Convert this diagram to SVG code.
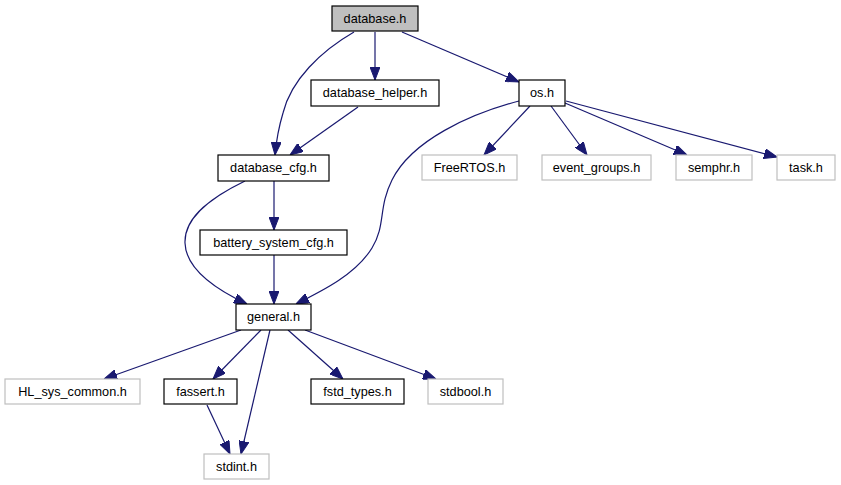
<svg xmlns="http://www.w3.org/2000/svg" width="841" height="485" viewBox="0 0 841 485">
<defs>
<marker id="arr" markerUnits="userSpaceOnUse" viewBox="0 0 13 10" refX="13" refY="5" markerWidth="13" markerHeight="10" orient="auto">
<path d="M0,0 L13,5 L0,10 Z" fill="#191970" stroke="#191970" stroke-width="1"/>
</marker>
<style>
.n rect{fill:#fff;stroke:#000;stroke-width:1.2}
.g rect{fill:#fff;stroke:#bfbfbf;stroke-width:1.2}
.root rect{fill:#bfbfbf}
text{font-family:"Liberation Sans",Arial,sans-serif;font-size:12.7px;fill:#000;text-anchor:middle}
.e path{fill:none;stroke:#191970;stroke-width:1.2;marker-end:url(#arr)}
</style>
</defs>
<rect width="841" height="485" fill="#fff"/>
<g id="edges" class="e">
<path d="M354,32 C321,51 291,80 283,113 C280,123 277,133 275,155"/>
<path d="M375,32 L375,80"/>
<path d="M402,32 L519,82"/>
<path d="M358,107 L290,155"/>
<path d="M274,181 L274,230"/>
<path d="M245,181 C214,196 184,216 185,243 C186,270 217,290 247,304"/>
<path d="M274,255 L274,304"/>
<path d="M519,101 C470,114 412,140 392,180 C378,208 386,225 372,248 C356,274 324,290 296,304"/>
<path d="M530,106 L484,155"/>
<path d="M551,106 L587,155"/>
<path d="M565,103 L687,155"/>
<path d="M566,101 L777,157"/>
<path d="M241,330 L104,379"/>
<path d="M261,330 L213,379"/>
<path d="M270,330 L241,454"/>
<path d="M288,330 L343,379"/>
<path d="M305,330 L436,379"/>
<path d="M207,405 L230,454"/>
</g>
<g id="database_h" class="n root"><rect x="332" y="6" width="86" height="25"/><text x="375" y="23">database.h</text></g>
<g id="database_helper_h" class="n"><rect x="311" y="80" width="128" height="26"/><text x="375" y="97">database_helper.h</text></g>
<g id="os_h" class="n"><rect x="519" y="80" width="46" height="26"/><text x="542" y="97">os.h</text></g>
<g id="database_cfg_h" class="n"><rect x="218" y="155" width="111" height="26"/><text x="273.5" y="172">database_cfg.h</text></g>
<g id="battery_system_cfg_h" class="n"><rect x="200" y="230" width="147" height="25"/><text x="273.5" y="247">battery_system_cfg.h</text></g>
<g id="general_h" class="n"><rect x="236" y="304" width="75" height="26"/><text x="273.5" y="321">general.h</text></g>
<g id="FreeRTOS_h" class="g"><rect x="422" y="155" width="95" height="25"/><text x="469.5" y="172">FreeRTOS.h</text></g>
<g id="event_groups_h" class="g"><rect x="542" y="155" width="109" height="25"/><text x="596.5" y="172">event_groups.h</text></g>
<g id="semphr_h" class="g"><rect x="676" y="155" width="76" height="25"/><text x="714" y="172">semphr.h</text></g>
<g id="task_h" class="g"><rect x="777" y="155" width="58" height="25"/><text x="806" y="172">task.h</text></g>
<g id="HL_sys_common_h" class="g"><rect x="5" y="379" width="135" height="25"/><text x="72.5" y="396">HL_sys_common.h</text></g>
<g id="fassert_h" class="n"><rect x="164" y="379" width="73" height="25"/><text x="200.5" y="396">fassert.h</text></g>
<g id="fstd_types_h" class="n"><rect x="311" y="379" width="93" height="25"/><text x="357.5" y="396">fstd_types.h</text></g>
<g id="stdbool_h" class="g"><rect x="428" y="379" width="75" height="25"/><text x="465.5" y="396">stdbool.h</text></g>
<g id="stdint_h" class="g"><rect x="204" y="454" width="65" height="25"/><text x="236.5" y="471">stdint.h</text></g>
</svg>
